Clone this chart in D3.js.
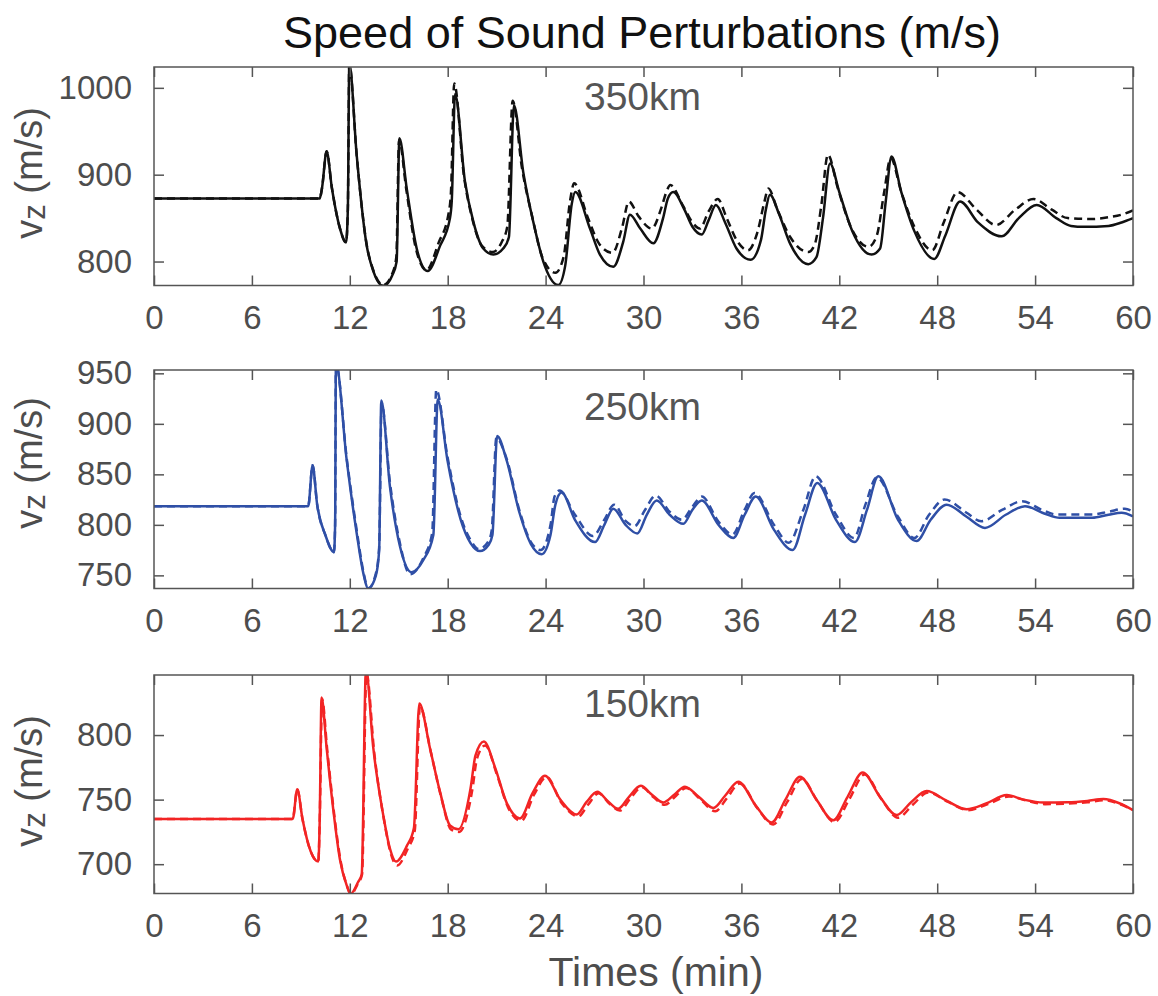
<!DOCTYPE html>
<meta charset="utf-8">
<style>
html, body {
  margin: 0;
  background: #fff;
}

text {
  font-family: "Liberation Sans", Arial, Helvetica, sans-serif;
}

.frame {
  fill: none;
  stroke: #555;
  stroke-width: 1.5px;
}

.tick line {
  stroke: #555;
  stroke-width: 1.5px;
}

.tick text {
  fill: #4d4d4d;
  font-size: 33px;
}

path.curve {
  fill: none;
  stroke-width: 2.5px;
}

path.dashed {
  stroke-dasharray: 8,5;
}
</style>

<svg></svg>

<script src="https://d3js.org/d3.v7.min.js"></script>
<script>

// time axis (min)
var timeTicks = [0, 6, 12, 18, 24, 30, 36, 42, 48, 54, 60];

// 350km panel, [time, v]
var solid350 = [[0,872.5],[10.15,872.5],[10.3,885],[10.58,927],[10.9,885],[11.4,838],[11.77,822],[11.88,860],[11.97,1028],[12.42,923],[13.03,819],[13.44,789],[14.05,772],[14.6,784],[14.87,800],[15.04,942],[15.49,884],[16.1,815],[16.77,789],[17.53,818],[18.14,850],[18.25,870],[18.45,993],[19.06,892],[19.57,846],[20.18,815],[20.8,808],[21.4,815],[21.75,828],[22.06,980],[22.63,903],[23.24,846],[23.86,800],[24.78,773],[25.2,795],[25.6,866],[25.82,880],[26.72,838],[27.33,808],[28.15,794],[28.76,823],[29.17,854],[29.8,838],[30.6,821],[31.2,850],[31.5,873],[31.83,880],[32.5,860],[33.0,840],[33.57,831],[34.0,848],[34.44,865],[35.0,845],[35.7,815],[36.57,802],[37.2,825],[37.5,860],[37.75,877],[38.3,855],[39.0,820],[40.1,797],[40.6,805],[41.0,850],[41.43,913],[42.0,880],[42.8,835],[43.98,808],[44.5,815],[44.85,870],[45.2,921],[45.8,880],[46.6,835],[47.82,803],[48.5,830],[49.4,869],[50.5,845],[51.95,829],[53.0,850],[54.1,865],[55.3,850],[56.2,841],[57.0,840],[58.5,841],[59.3,845],[60,850]];
var dashed350 = [[0,872.5],[10.15,872.5],[10.3,885],[10.58,927],[10.9,885],[11.4,838],[11.77,822],[11.88,860],[11.97,1028],[12.42,923],[13.03,820],[13.44,790],[14.05,773],[14.6,786],[14.85,805],[15.02,940],[15.47,882],[16.05,815],[16.7,790],[17.45,822],[18.05,855],[18.2,880],[18.4,1005],[19.0,898],[19.5,850],[20.1,818],[20.75,811],[21.3,822],[21.65,840],[21.98,985],[22.55,908],[23.2,850],[23.8,805],[24.6,787],[25.1,805],[25.5,870],[25.75,890],[26.6,850],[27.3,820],[28.1,810],[28.7,840],[29.1,869],[29.7,852],[30.5,838],[31.1,862],[31.4,880],[31.65,888],[32.4,865],[33.0,845],[33.45,838],[34.0,858],[34.55,872],[35.1,850],[35.7,825],[36.4,813],[37.0,835],[37.4,868],[37.65,884],[38.2,860],[39.0,828],[40.1,811],[40.5,820],[40.9,865],[41.3,923],[41.9,885],[42.7,840],[43.8,817],[44.3,830],[44.75,880],[45.15,919],[45.8,880],[46.6,840],[47.7,813],[48.4,845],[49.25,880],[50.4,860],[51.6,842],[52.8,860],[53.9,872],[55.0,860],[56.0,850],[57.5,849],[58.5,851],[59.3,854],[60,859]];

// 250km panel
var solid250 = [[0,818.5],[9.45,818.5],[9.72,859],[10.0,820],[10.5,790],[11.03,773],[11.1,800],[11.15,960],[11.81,864],[12.42,792],[12.83,752],[13.13,737],[13.6,750],[13.8,775],[13.93,923],[14.46,838],[15.07,779],[15.79,753],[16.5,765],[17.12,790],[17.39,924],[17.98,864.5],[18.8,805],[19.4,782],[19.98,774],[20.5,780],[20.74,790],[21.03,888],[21.6,864.5],[22.4,812],[23.1,781],[23.76,771],[24.3,790],[24.6,820],[24.98,832],[25.8,805],[27.03,783],[27.6,800],[28.15,816],[28.9,800],[29.62,791.5],[30.2,810],[30.81,824],[31.6,810],[32.44,801],[33.0,815],[33.57,824],[34.6,800],[35.5,787],[36.2,810],[36.88,828],[38.0,795],[39.14,775],[39.9,810],[40.65,841.5],[41.8,805],[42.96,783],[43.7,815],[44.39,848],[45.6,805],[46.74,784],[47.6,805],[48.58,820],[49.8,808],[50.93,797],[52.2,810],[53.38,818.5],[54.6,811],[55.5,807],[57.5,807],[58.5,810],[59.3,812],[60,808.5]];
var dashed250 = [[0,818.5],[9.45,818.5],[9.72,859],[10.0,820],[10.5,790],[11.03,773],[11.1,800],[11.15,960],[11.81,866],[12.42,795],[12.83,754],[13.13,737],[13.6,752],[13.8,778],[13.95,920],[14.46,842],[15.07,782],[15.7,751],[16.5,767],[17.05,792],[17.3,934],[17.98,868],[18.8,808],[19.4,785],[19.9,776],[20.5,784],[20.7,795],[20.98,886],[21.6,866],[22.4,814],[23.1,783],[23.7,775],[24.3,800],[24.55,828],[24.85,834],[25.8,810],[26.9,789],[27.6,805],[28.2,820],[28.9,804],[29.45,798.7],[30.1,815],[30.75,829],[31.6,813],[32.35,805],[33.0,818],[33.57,828],[34.6,803],[35.45,790.5],[36.2,815],[36.8,831.5],[38.0,800],[38.9,782.3],[39.8,815],[40.55,848],[41.8,810],[42.9,787],[43.6,820],[44.3,847],[45.6,808],[46.6,787],[47.5,810],[48.45,825],[49.8,812],[50.7,803.6],[52.0,815],[53.2,823.4],[54.4,815],[55.3,810.3],[57.5,810.3],[58.5,813],[59.5,816],[60,813]];

// 150km panel
var solid150 = [[0,735],[8.5,735],[8.78,758],[9.1,735],[9.6,710],[10.07,702],[10.15,730],[10.27,829],[10.58,790],[10.98,743],[11.39,704],[11.8,684],[12.05,677],[12.5,686],[12.73,692],[12.99,850],[13.44,790],[14.05,738],[14.46,712],[14.83,702],[15.49,714],[15.93,728],[16.26,824.5],[16.91,790],[17.53,756],[18.14,730],[18.65,727],[19.4,758.7],[19.7,784],[20.22,795],[20.9,775],[21.6,748],[22.43,735.4],[23.2,755],[23.96,768.5],[24.9,750],[25.9,738.5],[26.5,748],[27.17,756],[27.8,749],[28.45,743],[29.1,752],[29.83,760.7],[30.5,754],[31.21,747.8],[31.9,754],[32.54,760],[33.4,752],[34.28,743.6],[35.0,753],[35.81,763.8],[36.9,745],[37.86,732.3],[38.7,750],[39.59,767.7],[40.6,750],[41.63,734],[42.5,752],[43.43,771],[44.5,752],[45.51,738],[46.4,748],[47.35,756.6],[48.6,749],[49.8,742.6],[51.0,747],[52.26,753.5],[53.3,750],[54.5,747.8],[56.0,748],[57.2,749],[58.18,750.4],[59.2,747],[60,741.9]];
var dashed150 = [[0,735],[8.5,735],[8.78,758],[9.1,735],[9.6,710],[10.07,702],[10.15,730],[10.3,828],[10.62,788],[11.02,741],[11.43,703],[11.83,683],[12.07,677],[12.5,685],[12.75,692],[13.02,848],[13.5,786],[14.1,734],[14.52,708],[14.9,699],[15.55,712],[15.98,726],[16.3,822],[16.98,786],[17.6,752],[18.2,727],[18.7,725],[19.5,757],[19.8,782],[20.3,792],[21.0,770],[21.7,744],[22.5,733.5],[23.3,754],[24.05,767.5],[25.0,747],[26.0,737],[26.6,746],[27.25,755],[27.9,747],[28.55,741.5],[29.2,751],[29.9,759.5],[30.6,752],[31.3,746],[32.0,753],[32.6,759],[33.5,750],[34.4,741],[35.1,751],[35.9,762.5],[37.0,743],[37.95,730.8],[38.8,748],[39.7,766],[40.7,748],[41.7,732.5],[42.6,750],[43.55,769.5],[44.6,750],[45.6,736],[46.5,746],[47.45,755.5],[48.7,748],[49.9,741.8],[51.1,746.5],[52.4,752.5],[53.4,749.5],[54.6,746.5],[56.0,747],[57.2,748],[58.3,749.5],[59.2,746.5],[60,742]];

var yTicks350 = [800, 900, 1000];
var yTicks250 = [750, 800, 850, 900, 950];
var yTicks150 = [700, 750, 800];

var panels = [
  {name: '350km', solid: solid350, dashed: dashed350, ticks: yTicks350, domain: [772.4, 1024], color: '#111', top: 67, labelY: 43, ylabY: 106},
  {name: '250km', solid: solid250, dashed: dashed250, ticks: yTicks250, domain: [737, 953.3], color: '#2f4fa6', top: 370, labelY: 50, ylabY: 93},
  {name: '150km', solid: solid150, dashed: dashed150, ticks: yTicks150, domain: [677.3, 846.5], color: '#f22424', top: 675, labelY: 42, ylabY: 106}
];

var width = 1158, height = 996;
var left = 154, plotW = 979, plotH = 218.5;

var svg = d3.select('svg')
  .attr('width', width)
  .attr('height', height);

var x = d3.scaleLinear().domain([0, 60]).range([0, plotW]);

var line = d3.line()
  .x(function (d) { return x(d[0]); })
  .curve(d3.curveMonotoneX);

panels.forEach(function (p, i) {
  var y = d3.scaleLinear().domain(p.domain).range([plotH, 0]);
  line.y(function (d) { return y(d[1]); });

  var g = svg.append('g')
    .attr('transform', 'translate(' + left + ',' + p.top + ')');

  g.append('clipPath').attr('id', 'clip' + i)
    .append('rect').attr('width', plotW).attr('height', plotH);

  var curves = g.append('g').attr('clip-path', 'url(#clip' + i + ')');
  curves.append('path')
    .attr('class', 'curve dashed')
    .attr('stroke', p.color)
    .attr('d', line(p.dashed));
  curves.append('path')
    .attr('class', 'curve')
    .attr('stroke', p.color)
    .attr('d', line(p.solid));

  // inward ticks on all four sides, labels on left and bottom
  g.append('g')
    .attr('transform', 'translate(0,' + plotH + ')')
    .call(d3.axisBottom(x).tickValues(timeTicks).tickSize(-10).tickPadding(20).tickFormat(d3.format('d')));
  g.append('g')
    .call(d3.axisTop(x).tickValues(timeTicks).tickSize(-10).tickFormat(''));
  g.append('g')
    .call(d3.axisLeft(y).tickValues(p.ticks).tickSize(-10).tickPadding(22).tickFormat(d3.format('d')));
  g.append('g')
    .attr('transform', 'translate(' + plotW + ',0)')
    .call(d3.axisRight(y).tickValues(p.ticks).tickSize(-10).tickFormat(''));

  g.selectAll('.domain').remove();
  g.selectAll('.tick text').attr('font-family', null).attr('font-size', null);

  g.append('rect')
    .attr('class', 'frame')
    .attr('width', plotW)
    .attr('height', plotH);

  g.append('text')
    .attr('x', plotW / 2 - 1)
    .attr('y', p.labelY)
    .attr('text-anchor', 'middle')
    .attr('fill', '#555')
    .style('font-size', '39px')
    .text(p.name);

  // y label: v with subscript z
  var yl = g.append('text')
    .attr('transform', 'translate(' + (42 - left) + ',' + p.ylabY + ') rotate(-90)')
    .attr('text-anchor', 'middle')
    .attr('fill', '#4d4d4d')
    .style('font-size', '38px');
  yl.append('tspan').text('v');
  yl.append('tspan').attr('dy', 3).style('font-size', '31px').text('z');
  yl.append('tspan').attr('dy', -3).text(' (m/s)');
});

svg.append('text')
  .attr('x', 642)
  .attr('y', 48)
  .attr('text-anchor', 'middle')
  .attr('fill', '#111')
  .style('font-size', '45px')
  .text('Speed of Sound Perturbations (m/s)');

svg.append('text')
  .attr('x', 656)
  .attr('y', 986)
  .attr('text-anchor', 'middle')
  .attr('fill', '#4d4d4d')
  .style('font-size', '41px')
  .text('Times (min)');

</script>
